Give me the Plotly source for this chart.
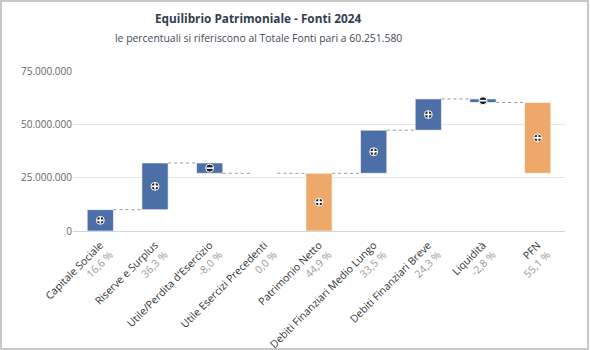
import plotly.graph_objects as go

categories = ["Capitale Sociale", "Riserve e Surplus", "Utile/Perdita d'Esercizio",
              "Utile Esercizi Precedenti", "Patrimonio Netto", "Debiti Finanziari Medio Lungo",
              "Debiti Finanziari Breve", "Liquidità", "PFN"]
measures = ["relative", "relative", "relative", "relative", "total",
            "relative", "relative", "relative", "subtotal"]
values = [10000000, 21880000, -4830000, 0, None, 20200000, 14660000, -1660000, None]
pct_labels = ["16,6 %", "36,3 %", "-8,0 %", "0,0 %", "44,9 %", "33,5 %", "24,3 %", "-2,8 %", "55,1 %"]
total_fonti = 60251580
y_ticks = [0, 25000000, 50000000, 75000000]

BLUE = "#4b6fa6"
ORANGE = "#eda86a"

# compute bases / heights from data
bases, heights, colors = [], [], []
cum = 0
pn = 0
for m, v in zip(measures, values):
    if m == "relative":
        bases.append(cum)
        heights.append(v)
        cum += v
        colors.append(BLUE)
    elif m == "total":
        pn = cum
        bases.append(0)
        heights.append(cum)
        colors.append(ORANGE)
    else:  # subtotal since last total
        bases.append(pn)
        heights.append(cum - pn)
        colors.append(ORANGE)

n = len(categories)
xs = list(range(n))
bw = 0.48

fig = go.Figure()
fig.add_trace(go.Bar(x=xs, y=heights, base=bases, width=bw,
                     marker=dict(color=colors, line=dict(color="rgba(255,255,255,0.6)", width=1)),
                     hoverinfo="skip"))

# connectors
for i in range(n - 1):
    lvl = bases[i] + heights[i]
    fig.add_trace(go.Scatter(x=[i + bw / 2, i + 1 - bw / 2], y=[lvl, lvl], mode="lines",
                             line=dict(color="#999999", width=1, dash="dot"),
                             hoverinfo="skip", showlegend=False))

# +/- markers
mx, my, signs = [], [], []
for i in range(n):
    if heights[i] != 0:
        mx.append(i)
        my.append(bases[i] + heights[i] / 2)
        signs.append(heights[i] > 0)
fig.add_trace(go.Scatter(x=mx, y=my, mode="markers",
                         marker=dict(symbol="circle", size=8, color="#1b1f2a",
                                     line=dict(color="white", width=1)),
                         hoverinfo="skip", showlegend=False))
fig.add_trace(go.Scatter(x=[x for x, s in zip(mx, signs) if s], y=[y for y, s in zip(my, signs) if s],
                         mode="markers",
                         marker=dict(symbol="cross-thin", size=5, line=dict(color="white", width=1.6)),
                         hoverinfo="skip", showlegend=False))
fig.add_trace(go.Scatter(x=[x for x, s in zip(mx, signs) if not s], y=[y for y, s in zip(my, signs) if not s],
                         mode="markers",
                         marker=dict(symbol="line-ew", size=5, line=dict(color="white", width=1.6)),
                         hoverinfo="skip", showlegend=False))

ticktext = [f"{c}<br><span style='color:#999999'>{p}</span>" for c, p in zip(categories, pct_labels)]

W, H = 590, 350
ml, mr, mt, mb = 73, 25, 71, 119
pw, ph = W - ml - mr, H - mt - mb

def px_x(p):
    return (p - ml) / pw

def px_y(p):
    return (H - mb - p) / ph

fig.update_layout(
    width=W, height=H,
    margin=dict(l=ml, r=mr, t=mt, b=mb, autoexpand=False),
    paper_bgcolor="white", plot_bgcolor="white",
    showlegend=False,
    separators=",.",
    font=dict(family="Open Sans", color="#333333"),
    xaxis=dict(tickmode="array", tickvals=xs, ticktext=ticktext, tickangle=-45,
               range=[-0.5, n - 0.5], showgrid=False, showline=True, linecolor="#ccd6eb",
               linewidth=1, ticks="", automargin=False, ticklabelstandoff=3,
               tickfont=dict(size=10.5, color="#333333")),
    yaxis=dict(range=[0, 75000000], tickvals=y_ticks, tickformat=",.0f",
               showgrid=True, gridcolor="#e6e6e6", zeroline=False, automargin=False,
               tickfont=dict(size=10, color="#666666"), ticks="", ticklen=6),
    annotations=[
        dict(text="<b>Equilibrio Patrimoniale - Fonti 2024</b>", xref="paper", yref="paper",
             x=px_x(258), y=px_y(18), xanchor="center", yanchor="middle", showarrow=False,
             font=dict(size=11.8, color="#333d4f")),
        dict(text="le percentuali si riferiscono al Totale Fonti pari a "
                  + f"{total_fonti:,}".replace(",", "."),
             xref="paper", yref="paper",
             x=px_x(258), y=px_y(38), xanchor="center", yanchor="middle", showarrow=False,
             font=dict(size=10.4, color="#444a55")),
    ],
    shapes=[dict(type="rect", xref="paper", yref="paper",
                 x0=px_x(1), x1=px_x(588),
                 y0=px_y(349), y1=px_y(1),
                 line=dict(color="#c8c8c8", width=2), layer="below")]
)

fig.write_html("out.html")
